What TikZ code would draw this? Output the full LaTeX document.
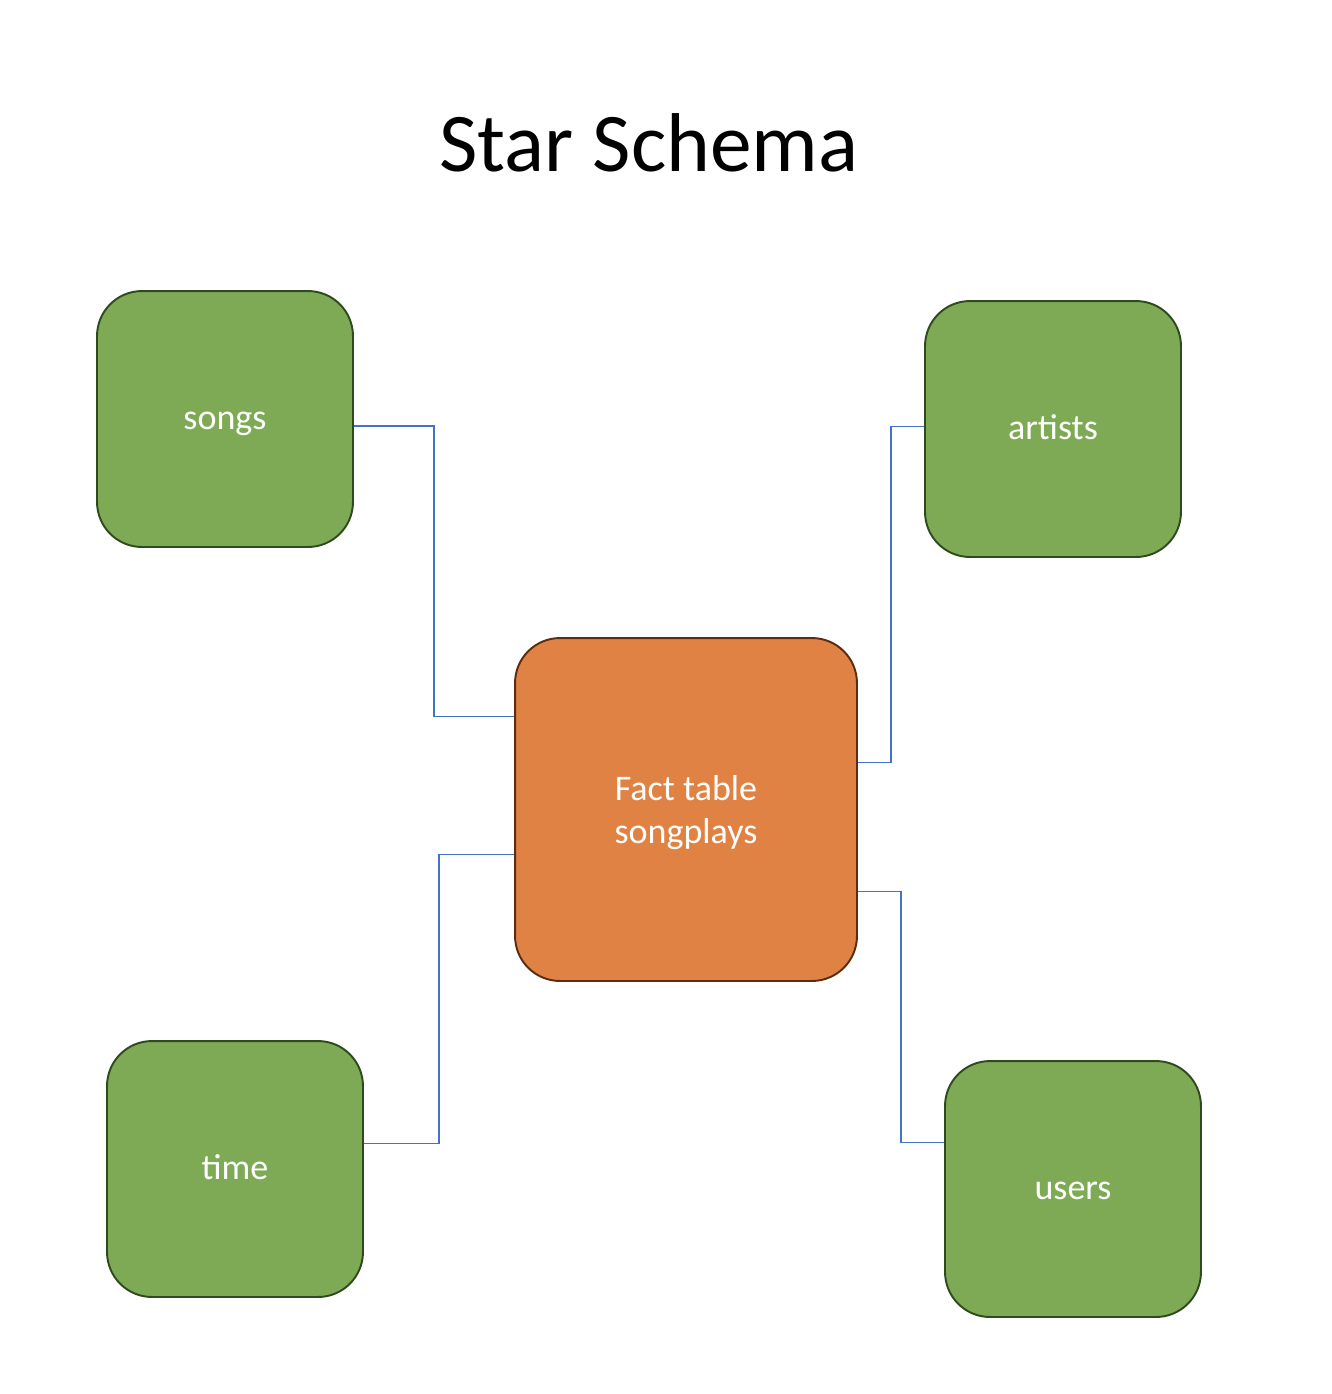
\documentclass[tikz,border=0pt]{standalone}
\usepackage{fontspec}
\setmainfont{Carlito}
\usepackage{tikz}
\usetikzlibrary{positioning, calc}

\definecolor{dimgreen}{HTML}{7FAA55}
\definecolor{dimgreenline}{HTML}{2E4A1E}
\definecolor{factorange}{HTML}{E08244}
\definecolor{factline}{HTML}{5A2C12}
\definecolor{linkblue}{HTML}{4472C4}

\begin{document}
\begin{tikzpicture}[
    x=0.02cm, y=0.02cm,
    table/.style={draw, line width=1.1pt, rounded corners=0.9cm, align=center,
                  text=white, font=\fontsize{20.5}{25}\selectfont},
    dim/.style={table, fill=dimgreen, draw=dimgreenline, minimum width=5.12cm, minimum height=5.12cm,
                text height=1.2em, text depth=0em},
    fact/.style={table, fill=factorange, draw=factline, minimum width=6.84cm, minimum height=6.86cm,
                 text depth=0em},
    link/.style={draw=linkblue, line width=0.8pt},
]
\useasboundingbox (0,0) rectangle (1332,-1394);

% Title
\node[font=\fontsize{47.5}{56}\selectfont] (title) at (649,-143) {Star Schema};

% Fact table in the middle
\node[fact] (songplays) at (686,-809.5) {Fact table\\songplays};

% Dimension tables
\node[dim] (songs) at (225,-419) {songs};
\node[dim] (artists) at (1053,-429) {artists};
\node[dim] (time) at (235,-1169) {time};
\node[dim] (users) at (1073,-1189) {users};

% Links to the fact table
\coordinate (songsR) at ($(songs.north east)!0.527!(songs.south east)$);
\coordinate (factA) at ($(songplays.north west)!0.23!(songplays.south west)$);
\draw[link] (songsR) -| ($(songsR)!0.5!(factA)$) |- (factA);

\coordinate (artistsL) at ($(artists.north west)!0.49!(artists.south west)$);
\coordinate (factB) at ($(songplays.north east)!0.364!(songplays.south east)$);
\draw[link] (factB) -| ($(factB)!0.5!(artistsL)$) |- (artistsL);

\coordinate (timeR) at ($(time.north east)!0.4!(time.south east)$);
\coordinate (factC) at ($(songplays.north west)!0.63!(songplays.south west)$);
\draw[link] (timeR) -| ($(timeR)!0.5!(factC)$) |- (factC);

\coordinate (usersL) at ($(users.north west)!0.32!(users.south west)$);
\coordinate (factD) at ($(songplays.north east)!0.738!(songplays.south east)$);
\draw[link] (factD) -| ($(factD)!0.5!(usersL)$) |- (usersL);

\end{tikzpicture}
\end{document}
